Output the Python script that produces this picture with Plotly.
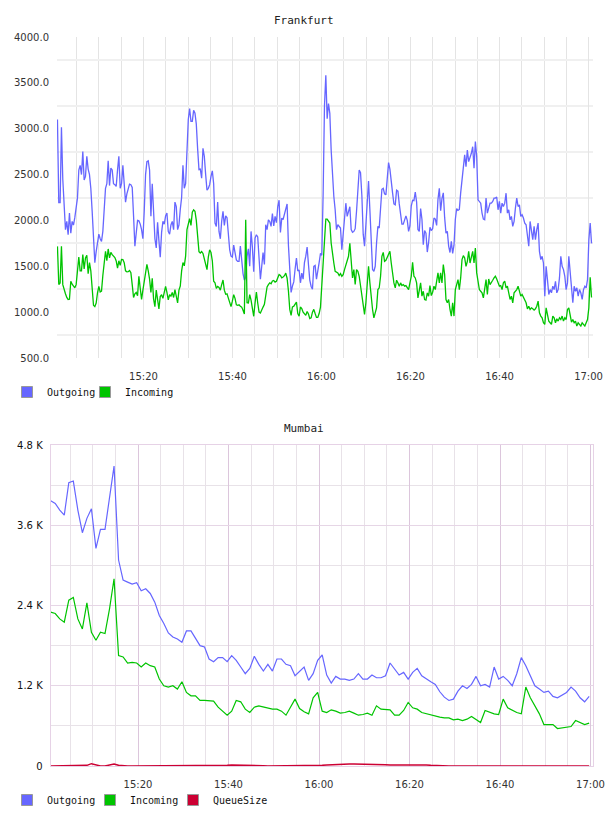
import pandas as pd
import plotly.graph_objects as go

# ---------------- Frankfurt (18 s samples) ----------------
fra_start = "2024-01-01 15:00:40"
fra_step = "18s"
fra_outgoing = [
    3100, 2195, 2195, 3015, 2450, 2120, 1900, 1990, 1845, 2080,
    1860, 1990, 1950, 2030, 2140, 2245, 2550, 2600, 2500, 2750,
    2440, 2480, 2700, 2560, 2500, 2350, 2100, 1800, 1540, 1660,
    1780, 1850, 1800, 1770, 1880, 2190, 2350, 2400, 2650, 2380,
    2570, 2550, 2400, 2390, 2370, 2550, 2700, 2350, 2400, 2600,
    2420, 2200, 2290, 2360, 2395, 2390, 2360, 2050, 1720, 1860,
    2000, 1995, 1960, 1900, 1800, 2100, 2500, 2640, 2650, 2550,
    2045, 2400, 2100, 1800, 1700, 1980, 1780, 1600, 1870, 1990,
    1960, 2050, 2080, 1880, 1850, 1950, 1990, 1900, 2200, 2150,
    1900, 1950, 2120, 2250, 2600, 2350, 2400, 2805, 3100, 3220,
    3080, 3080, 3200,
    3170, 3050, 2780, 2555, 2560, 2460, 2786, 2700, 2500, 2330,
    2350, 2390, 2480, 2540, 2400, 1971, 1935, 2200, 1880, 1800,
    1990, 2100, 1945, 2050, 2030, 1830, 1680, 1610, 1600, 1730,
    1640, 1570, 1554, 1554, 1720, 1540, 1420, 1350, 1380, 1609,
    1690, 1500, 1880, 1710, 1440, 1808, 1844, 1820, 1600, 1360,
    1500, 1650, 1520, 1953, 1900, 2007, 1989, 1935, 2075, 1940,
    2044, 1975, 2150, 2220, 1870, 2025, 2010, 2080, 2134, 2180,
    1730, 1440, 1215, 1285, 1330, 1470, 1590, 1448, 1460, 1320,
    1425, 1360, 1540, 1610, 1710, 1520, 1350, 1280, 1250, 1500,
    1510, 1360, 1430, 1540, 1640, 1620, 2300, 3250, 3583, 3110,
    3275,
    3167, 2768, 2478, 2261, 2116, 1899, 1953, 1935, 1917, 1681,
    1862, 1971, 2188, 2044, 2100, 2150, 1900, 1870, 1880, 1910,
    2100, 2320, 2550, 2520, 2270, 1850, 1720, 1950, 2200, 2430,
    2116, 1754, 1464, 1446, 1500, 1754, 1935, 1917, 2152, 2340,
    2350, 2290, 2279, 2420, 2630, 2560, 2390, 2300, 2180, 2170,
    2330, 2320, 2180, 2060, 1960, 1960, 2010, 2050, 2000, 1880,
    1940, 2160, 2220, 2215, 2310, 2200, 1900, 1880, 2130, 2010,
    1735, 1890, 1860, 1655, 1760, 1925, 1890, 1910, 2026, 2015,
    1945, 2230, 2350, 2105, 2240, 2300, 2030, 1862, 1880, 1720,
    1650, 1772, 1640, 1730, 2010, 2130, 2110, 2120, 2300, 2460,
    2600,
    2714, 2587, 2768, 2641, 2678, 2732, 2804, 2569, 2859, 2696,
    2225, 2207, 2188, 2080, 2015, 2007, 2243, 2080, 2152, 2188,
    2188, 2207, 2243, 2243, 2254, 2116, 2207, 2080, 2188, 2152,
    2188, 2297, 2080, 2116, 2007, 2044, 1935, 1989, 2134, 2243,
    2152, 2170, 2044, 2062, 2026, 1971, 1953, 1826, 1718, 1989,
    1862, 1790, 1935, 1790, 1899, 1971, 1663, 1573, 1609, 1536,
    1174, 1500, 1355, 1192, 1246, 1210, 1283, 1246, 1337, 1210,
    1246, 1373, 1609, 1500, 1464, 1391, 1246, 1319, 1609, 1464,
    1319, 1102, 1283, 1228, 1265, 1174, 1246, 1210, 1138, 1246,
    1283, 1265, 1355, 1790, 1971, 1750,
]
fra_incoming = [
    1717, 1301, 1319, 1717, 1300, 1240, 1200, 1160, 1138, 1140,
    1337, 1305, 1290, 1265, 1300, 1480, 1600, 1450, 1450, 1627,
    1470, 1591, 1620, 1420, 1540, 1450, 1230, 1075, 1060, 1100,
    1210, 1280, 1220, 1230, 1400, 1573, 1663, 1560, 1689, 1591,
    1652, 1627, 1610, 1595, 1558, 1480, 1560, 1510, 1575, 1573,
    1540, 1450, 1440, 1442, 1455, 1430, 1300, 1160, 1200, 1215,
    1180, 1390, 1260, 1140, 1240, 1330, 1420, 1520, 1450, 1360,
    1215, 1370, 1145, 1060, 1240, 1140, 1035, 1170, 1190, 1150,
    1225, 1280, 1215, 1135, 1190, 1175, 1215, 1160, 1245, 1180,
    1100, 1240, 1285, 1450, 1540, 1505, 1610, 1900, 1950, 2020,
    1945, 2090, 2115,
    2100, 2000, 1800, 1660, 1645, 1660, 1640, 1580, 1505, 1464,
    1600, 1680, 1650, 1560, 1337, 1320, 1260, 1280, 1270, 1240,
    1300, 1350, 1240, 1195, 1200, 1145, 1090, 1060, 1120, 1190,
    1150, 1080, 1075, 1080, 1063, 1055, 1020, 980, 2007, 1102,
    1100, 1190, 1130, 1060, 955, 1100, 1220, 1100, 1000, 990,
    1030, 1055, 1085, 1200, 1275, 1300, 1320, 1310, 1340, 1345,
    1328, 1337, 1365, 1410, 1400, 1373, 1382, 1397, 1425, 1370,
    1230, 1030, 965, 1056, 1065, 1090, 1110, 985, 955, 1056,
    1040, 1000, 985, 965, 1007, 980, 930, 938, 1000, 1030,
    985, 943, 943, 985, 1055, 1300, 1630, 1900, 2015, 2015,
    1990,
    1971, 1754, 1609, 1536, 1446, 1435, 1428, 1399, 1420, 1391,
    1409, 1464, 1518, 1544, 1609, 1750, 1536, 1373, 1464, 1301,
    1464, 1446, 1391, 1283, 1138, 1029, 975, 1102, 1283, 1500,
    1319, 1138, 1029, 938, 993, 1047, 1246, 1265, 1391, 1609,
    1652, 1554, 1565, 1602, 1645, 1663, 1536, 1409, 1319, 1265,
    1348, 1319, 1283, 1319, 1290, 1301, 1283, 1290, 1265, 1246,
    1319, 1391, 1543, 1391, 1373, 1319, 1156, 1228, 1319, 1174,
    1228, 1138, 1131, 1210, 1174, 1290, 1181, 1217, 1283, 1246,
    1319, 1428, 1319, 1428, 1319, 1518, 1409, 1138, 1102, 1138,
    1029, 957, 1102, 957, 1246, 1319, 1355, 1246, 1373, 1573,
    1616,
    1591, 1500, 1554, 1663, 1536, 1609, 1663, 1536, 1699, 1428,
    1319, 1246, 1228, 1210, 1156, 1246, 1355, 1192, 1362, 1301,
    1319, 1348, 1373, 1391, 1362, 1319, 1283, 1290, 1246, 1319,
    1337, 1265, 1283, 1210, 1138, 1174, 1102, 1210, 1228, 1246,
    1283, 1228, 1174, 1192, 1156, 1138, 1102, 1036, 1065, 1029,
    1047, 1036, 1022, 1036, 1065, 1120, 993, 957, 938, 884,
    866, 1047, 957, 902, 884, 866, 957, 938, 884, 928,
    902, 938, 920, 957, 902, 938, 920, 1029, 1047, 975,
    891, 920, 884, 902, 848, 884, 866, 848, 884, 866,
    848, 884, 920, 1047, 1380, 1160,
]
fra_yticks = [500, 1000, 1500, 2000, 2500, 3000, 3500, 4000]
fra_ygrid = [750, 1250, 1750, 2250, 2750, 3250, 3750]

# ---------------- Mumbai (1 min samples) ----------------
mum_start = "2024-01-01 15:00:42"
mum_step = "60s"
mum_outgoing = [
    3966, 3927, 3827, 3752, 4235, 4261, 3827, 3488, 3703, 3847,
    3254, 3539, 3539, 4026, 4485, 3080,
    2780, 2750, 2720, 2740, 2620, 2650, 2580, 2450, 2250, 2130,
    1990, 1930, 1900, 1850, 2020, 2020, 1900, 1800, 1780, 1600,
    1560, 1620, 1620, 1560, 1650, 1580, 1480, 1380, 1460, 1640,
    1520, 1420, 1520, 1420, 1600, 1600, 1520, 1500, 1350, 1420,
    1480, 1280, 1380, 1580, 1660, 1360, 1240, 1340, 1300, 1300,
    1280, 1300, 1380, 1300, 1300, 1360, 1320, 1320, 1350, 1540,
    1440, 1360, 1400, 1300, 1400, 1460, 1350, 1300, 1260, 1220,
    1110, 1030, 980, 1000, 1120, 1200, 1160, 1220, 1340, 1200,
    1220, 1180, 1480, 1300, 1340, 1280, 1200, 1380, 1620, 1500,
    1350, 1200, 1150, 1100, 1120, 1040, 1020, 1060, 1100, 1180,
    1120, 1020, 960, 1040,
]
mum_incoming = [
    2300, 2280, 2200, 2150, 2480, 2520, 2200, 2050, 2440, 2000,
    1880, 2000, 1980, 2350, 2800, 1650, 1630, 1540, 1550, 1540,
    1480, 1540, 1500, 1480, 1300, 1200, 1180, 1200, 1150, 1260,
    1100, 1050, 1050, 980, 980, 980, 970, 880, 820, 760,
    820, 980, 960, 850, 800, 880, 900, 880, 870, 850,
    850, 820, 760, 870, 1000, 860, 810, 780, 1020, 1100,
    820, 800, 840, 820, 790, 800, 820, 790, 760, 770,
    790, 760, 900, 850, 840, 840, 760, 760, 830, 950,
    870, 850, 800, 780, 760, 740, 730, 720, 720, 690,
    700, 680, 700, 740, 690, 650, 830, 800, 780, 770,
    1000, 870, 830, 800, 780, 1180, 1020, 900, 780, 620,
    620, 620, 560, 570, 590, 590, 680, 650, 620, 640,
]
mum_queue = [
    0, 0, 0, 0, 0, 0, 0, 0, 10, 35,
    15, 0, 0, 10, 30, 10, 0, 0, 0, 0,
    0, 0, 0, 0, 0, 0, 0, 0, 0, 0,
    0, 0, 0, 0, 5, 10, 10, 10, 10, 10,
    15, 15, 15, 15, 15, 10, 10, 5, 0, 0,
    0, 0, 0, 0, 0, 0, 0, 0, 0, 5,
    10, 15, 20, 20, 25, 25, 30, 30, 30, 30,
    30, 25, 25, 20, 20, 15, 15, 15, 20, 25,
    25, 25, 20, 15, 10, 5, 0, 0, 0, 0,
    0, 0, 0, 0, 0, 0, 0, 0, 0, 0,
    0, 0, 0, 0, 0, 0, 0, 0, 0, 0,
    0, 0, 0, 0, 0, 0, 0, 0, 0, 0,
]
mum_yticks = [0, 1200, 2400, 3600, 4800]
mum_yticklabels = ["0", "1.2 K", "2.4 K", "3.6 K", "4.8 K"]
mum_ygrid = [600, 1800, 3000, 4200]

C_OUT = "#6666ff"
C_IN = "#00c400"
C_Q = "#cc0033"

fra_x = pd.date_range(fra_start, periods=len(fra_outgoing), freq=fra_step)
mum_x = pd.date_range(mum_start, periods=len(mum_outgoing), freq=mum_step)

W, H = 608, 816
fig = go.Figure()

fig.add_trace(go.Scatter(x=fra_x, y=fra_outgoing, mode="lines", line=dict(color=C_OUT, width=1.3),
                         xaxis="x", yaxis="y", showlegend=False, hoverinfo="skip"))
fig.add_trace(go.Scatter(x=fra_x, y=fra_incoming, mode="lines", line=dict(color=C_IN, width=1.3),
                         xaxis="x", yaxis="y", showlegend=False, hoverinfo="skip"))
fig.add_trace(go.Scatter(x=mum_x, y=mum_outgoing, mode="lines", line=dict(color=C_OUT, width=1.2),
                         xaxis="x2", yaxis="y2", showlegend=False, hoverinfo="skip"))
fig.add_trace(go.Scatter(x=mum_x, y=mum_incoming, mode="lines", line=dict(color=C_IN, width=1.2),
                         xaxis="x2", yaxis="y2", showlegend=False, hoverinfo="skip"))
fig.add_trace(go.Scatter(x=mum_x, y=mum_queue, mode="lines", line=dict(color=C_Q, width=1.5),
                         xaxis="x2", yaxis="y2", showlegend=False, hoverinfo="skip"))

def legend_entry(name, color, legend, xa, ya, lw=None):
    fig.add_trace(go.Scatter(x=[None], y=[None], mode="markers", name=name,
                             marker=dict(symbol="square", size=11, color=color,
                                         line=dict(color="#999999", width=1)),
                             xaxis=xa, yaxis=ya, legend=legend, showlegend=True,
                             legendwidth=lw))

legend_entry("Outgoing", C_OUT, "legend", "x", "y", 33)
legend_entry("Incoming", C_IN, "legend", "x", "y", 70)
legend_entry("Outgoing", C_OUT, "legend2", "x2", "y2", 38)
legend_entry("Incoming", C_IN, "legend2", "x2", "y2", 38)
legend_entry("QueueSize", C_Q, "legend2", "x2", "y2", 80)

tick_font = dict(family="DejaVu Sans", size=10, color="#333333")
mono = "DejaVu Sans Mono"

def py(v):
    return 1 - v / H

fig.update_layout(
    width=W, height=H, autosize=False,
    margin=dict(l=0, r=0, t=0, b=0),
    paper_bgcolor="white", plot_bgcolor="white",
    template="none",
    xaxis=dict(domain=[57 / W, 593 / W], anchor="y", type="date",
               range=["2024-01-01 15:00:34", "2024-01-01 17:01:00"],
               tick0="2024-01-01 15:00", dtick=20 * 60 * 1000, tickformat="%H:%M",
               showgrid=True, gridcolor="#e4e4e4", gridwidth=1,
               minor=dict(dtick=5 * 60 * 1000, tick0="2024-01-01 15:00", showgrid=True,
                          gridcolor="#e4e4e4", gridwidth=1),
               ticks="outside", ticklen=9, tickcolor="rgba(0,0,0,0)",
               showline=False, zeroline=False, tickfont=tick_font, automargin=False),
    yaxis=dict(domain=[py(358), py(37)], anchor="x", range=[500, 4000],
               tickmode="array", tickvals=fra_yticks,
               ticktext=[f"{v:.1f}" for v in fra_yticks],
               showgrid=False, zeroline=False, showline=False,
               minor=dict(tickmode="array", tickvals=fra_ygrid, showgrid=True,
                          gridcolor="#f0f0f0", gridwidth=2),
               ticks="outside", ticklen=5, tickcolor="rgba(0,0,0,0)",
               tickfont=tick_font, automargin=False),
    xaxis2=dict(domain=[50.7 / W, 593 / W], anchor="y2", type="date",
                range=["2024-01-01 15:00:42", "2024-01-01 17:00:33"],
                tick0="2024-01-01 15:00", dtick=20 * 60 * 1000, tickformat="%H:%M",
                showgrid=True, gridcolor="#dcc6dc", gridwidth=1,
                minor=dict(dtick=5 * 60 * 1000, tick0="2024-01-01 15:00", showgrid=True,
                           gridcolor="#e8e2e8", gridwidth=1),
                ticks="outside", ticklen=9, tickcolor="rgba(0,0,0,0)",
                showline=True, linecolor="#e6d2e6", mirror=True, zeroline=False,
                tickfont=tick_font, automargin=False),
    yaxis2=dict(domain=[py(766), py(445)], anchor="x2", range=[0, 4800],
                tickmode="array", tickvals=mum_yticks, ticktext=mum_yticklabels,
                showgrid=True, gridcolor="#e6d6e6", gridwidth=1,
                minor=dict(tickmode="array", tickvals=mum_ygrid, showgrid=True,
                           gridcolor="#e8e2e8", gridwidth=1),
                ticks="outside", ticklen=5, tickcolor="rgba(0,0,0,0)",
                showline=True, linecolor="#e6d2e6", mirror=True, zeroline=False,
                tickfont=dict(family="DejaVu Sans", size=10, color="#111111"),
                automargin=False),
    legend=dict(orientation="h", x=7 / W, xanchor="left", y=py(392), yanchor="middle",
                font=dict(family=mono, size=10, color="#111111"),
                bgcolor="rgba(0,0,0,0)", borderwidth=0, itemwidth=30,
                entrywidthmode="pixels", traceorder="normal"),
    legend2=dict(orientation="h", x=7 / W, xanchor="left", y=py(800), yanchor="middle",
                 font=dict(family=mono, size=10, color="#111111"),
                 bgcolor="rgba(0,0,0,0)", borderwidth=0, itemwidth=30,
                 entrywidthmode="pixels", traceorder="normal"),
    annotations=[
        dict(text="Frankfurt", x=0.5, y=py(20), xref="paper", yref="paper",
             xanchor="center", yanchor="middle", showarrow=False,
             font=dict(family=mono, size=11, color="#222222")),
        dict(text="Mumbai", x=0.5, y=py(428), xref="paper", yref="paper",
             xanchor="center", yanchor="middle", showarrow=False,
             font=dict(family=mono, size=11, color="#222222")),
    ],
)

fig.write_html("out.html")
